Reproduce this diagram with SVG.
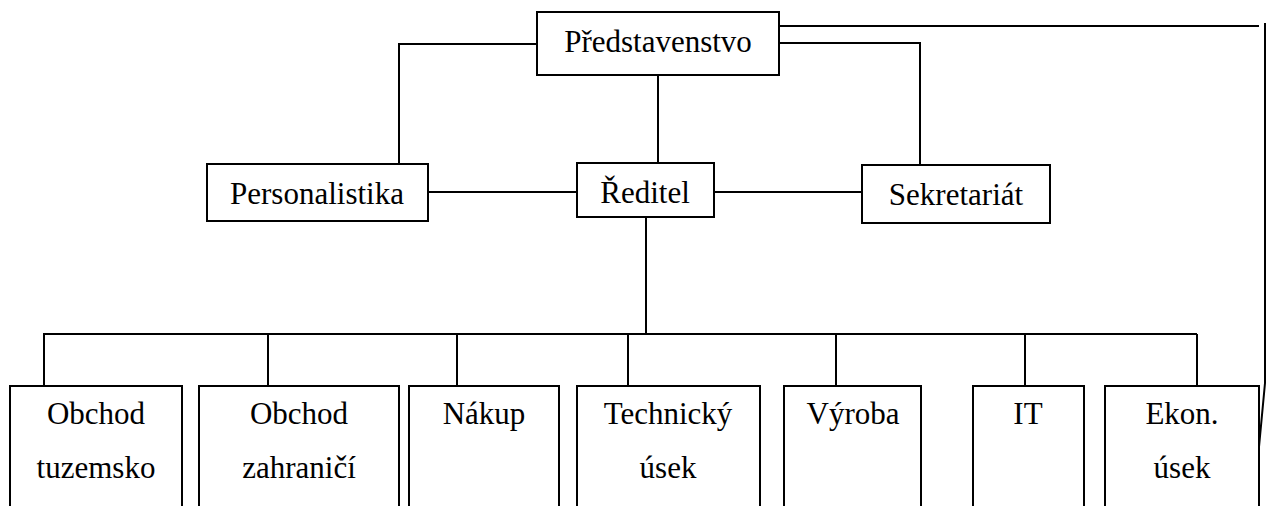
<svg xmlns="http://www.w3.org/2000/svg" width="1267" height="506" viewBox="0 0 1267 506">
<style>
.box{fill:#fff;stroke:#000;stroke-width:2}
.ln{fill:none;stroke:#000;stroke-width:2}
.t{font-family:'Liberation Serif','DejaVu Serif',serif;font-size:31px;fill:#000;text-anchor:middle}
</style>
<rect width="1267" height="506" fill="#fff"/>
<g id="connectors">
<path class="ln" d="M537,44 H399 V163"/>
<path class="ln" d="M658,75 V163"/>
<path class="ln" d="M779,26 H1259"/>
<path class="ln" d="M779,43 H920 V165"/>
<path class="ln" d="M1265,23 V383 L1259,447 V506"/>
<path class="ln" d="M428,192 H577"/>
<path class="ln" d="M714,192 H862"/>
<path class="ln" d="M646,217 V334"/>
<path class="ln" d="M43,334 H1197"/>
<path class="ln" d="M44,334 V386"/>
<path class="ln" d="M268,334 V386"/>
<path class="ln" d="M457,334 V386"/>
<path class="ln" d="M628,334 V386"/>
<path class="ln" d="M836,334 V386"/>
<path class="ln" d="M1025,334 V386"/>
<path class="ln" d="M1197,334 V386"/>
</g>
<g id="predstavenstvo"><rect class="box" x="537" y="12" width="242" height="63"/><text class="t" font-family="Liberation Serif, serif" x="658" y="52">Představenstvo</text></g>
<g id="personalistika"><rect class="box" x="207" y="164" width="221" height="57"/><text class="t" font-family="Liberation Serif, serif" x="317" y="204">Personalistika</text></g>
<g id="reditel"><rect class="box" x="577" y="163" width="137" height="54"/><text class="t" font-family="Liberation Serif, serif" x="645" y="203">Ředitel</text></g>
<g id="sekretariat"><rect class="box" x="862" y="165" width="188" height="58"/><text class="t" font-family="Liberation Serif, serif" x="956" y="205">Sekretariát</text></g>
<g id="obchod-tuzemsko"><rect class="box" x="10" y="386" width="172" height="130"/><text class="t" font-family="Liberation Serif, serif" x="96" y="424">Obchod</text><text class="t" font-family="Liberation Serif, serif" x="96" y="478">tuzemsko</text></g>
<g id="obchod-zahranici"><rect class="box" x="199" y="386" width="200" height="130"/><text class="t" font-family="Liberation Serif, serif" x="299" y="424">Obchod</text><text class="t" font-family="Liberation Serif, serif" x="299" y="478">zahraničí</text></g>
<g id="nakup"><rect class="box" x="409" y="386" width="150" height="130"/><text class="t" font-family="Liberation Serif, serif" x="484" y="424">Nákup</text></g>
<g id="technicky-usek"><rect class="box" x="577" y="386" width="183" height="130"/><text class="t" font-family="Liberation Serif, serif" x="668" y="424">Technický</text><text class="t" font-family="Liberation Serif, serif" x="668" y="478">úsek</text></g>
<g id="vyroba"><rect class="box" x="784" y="386" width="137" height="130"/><text class="t" font-family="Liberation Serif, serif" x="853" y="424">Výroba</text></g>
<g id="it"><rect class="box" x="973" y="386" width="111" height="130"/><text class="t" font-family="Liberation Serif, serif" x="1028" y="424">IT</text></g>
<g id="ekon-usek"><rect class="box" x="1105" y="386" width="154" height="130"/><text class="t" font-family="Liberation Serif, serif" x="1182" y="424">Ekon.</text><text class="t" font-family="Liberation Serif, serif" x="1182" y="478">úsek</text></g>
</svg>
